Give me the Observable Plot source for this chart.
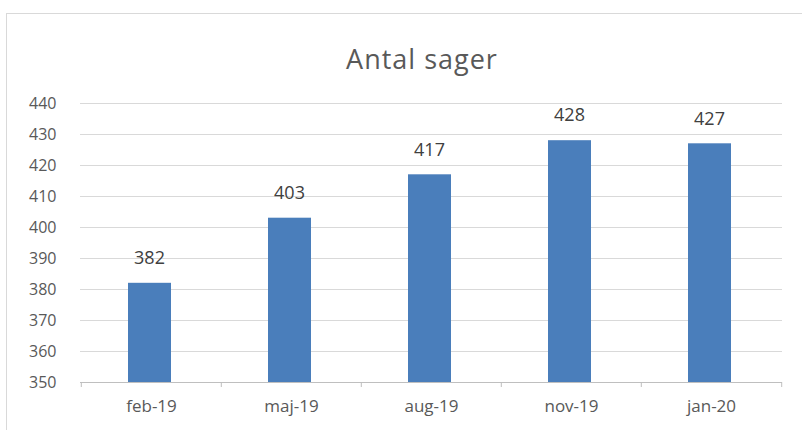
<!DOCTYPE html>
<html>
<head>
<meta charset="utf-8">
<script src="https://cdn.jsdelivr.net/npm/d3@7"></script>
<script src="https://cdn.jsdelivr.net/npm/@observablehq/plot@0.6"></script>
<style>
  html, body { margin: 0; padding: 0; background: #fff; }
  #wrap { position: relative; width: 802px; height: 430px; overflow: hidden; font-family: "Open Sans", sans-serif; }
  #frame { position: absolute; left: 6px; top: 13px; width: 840px; height: 460px; border: 1px solid #d9d9d9; box-sizing: border-box; }
  #title { position: absolute; left: 0; width: 844px; top: 40px; text-align: center; font-size: 27px; letter-spacing: 1px; color: #595959; white-space: nowrap; }
  #chart { position: absolute; left: 0; top: 0; }
</style>
</head>
<body>
<div id="wrap">
  <div id="frame"></div>
  <div id="title">Antal sager</div>
  <div id="chart"></div>
</div>
<script>
const categories = ["feb-19", "maj-19", "aug-19", "nov-19", "jan-20"];
const values = [382, 403, 417, 428, 427];
const yTicks = [350, 360, 370, 380, 390, 400, 410, 420, 430, 440];

const data = categories.map((c, i) => ({cat: c, value: values[i]}));
const step = (802 - 80 - 20) / categories.length;

const chart = Plot.plot({
  width: 802,
  height: 430,
  marginTop: 103,
  marginBottom: 48,
  marginLeft: 80,
  marginRight: 20,
  style: {fontFamily: "'Open Sans', sans-serif", fontSize: "16px", color: "#595959", background: "transparent"},
  x: {domain: categories, padding: 0, label: null},
  y: {domain: [350, 440], label: null},
  marks: [
    Plot.ruleY(yTicks.filter(t => t > 350), {y: d => d, stroke: "#d9d9d9", strokeWidth: 1}),
    Plot.barY(data, {x: "cat", y1: 350, y2: "value", fill: "#4a7ebb", insetLeft: 47, insetRight: 50}),
    Plot.ruleY([350], {stroke: "#bfbfbf", strokeWidth: 1}),
    Plot.ruleX(categories, {x: d => d, y1: 350, y2: 350, insetBottom: -5, dx: -step / 2, stroke: "#bfbfbf"}),
    Plot.ruleX(categories.slice(-1), {x: d => d, y1: 350, y2: 350, insetBottom: -5, dx: step / 2, stroke: "#bfbfbf"}),
    Plot.text(data, {x: "cat", y: "value", text: d => String(d.value), dy: -25, dx: -2, fill: "#404040", fontSize: 18}),
    Plot.axisY({ticks: yTicks, tickSize: 0, tickPadding: 24, fontSize: 16, fill: "#595959"}),
    Plot.axisX({tickSize: 0, tickPadding: 17, fontSize: 17, fill: "#595959"})
  ]
});
document.getElementById("chart").appendChild(chart);
</script>
</body>
</html>
